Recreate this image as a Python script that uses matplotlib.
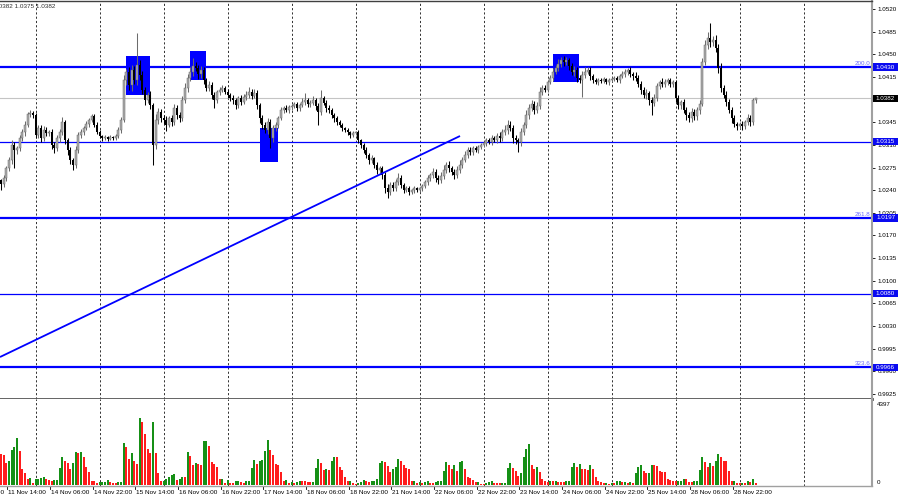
import numpy as np
import pandas as pd
import matplotlib
matplotlib.use("Agg")
import matplotlib.pyplot as plt
import matplotlib.transforms as mtrans
from matplotlib.patches import Rectangle

plt.rcParams['font.family'] = ['Liberation Sans', 'DejaVu Sans']

# ---------------- data (prices given in pips above 1.0000) ----------------
first_open = 262
close_pips = [
    255, 249, 259, 274, 286, 310, 302, 305, 320, 330, 341, 358, 359, 356,
    325, 336, 320, 333, 328, 330, 310, 305, 320, 330, 345, 317, 302, 286, 279, 302, 325, 330, 336, 342, 348, 354, 341, 330,
    324, 320, 322, 319, 322, 320, 324, 333, 348, 410, 422, 402, 426, 410, 433, 418, 395, 379, 387, 371, 310, 348, 361, 351,
    348, 341, 351, 345, 367, 356, 351, 379, 398, 413, 422, 432, 429, 419, 425, 410, 398, 402, 387, 379, 392, 395, 398, 392,
    387, 382, 379, 371, 382, 376, 384, 387, 392, 385, 390, 371, 351, 341, 333, 345, 320, 336, 341, 351, 364, 367, 364, 368,
    370, 373, 367, 371, 376, 379, 373, 375, 379, 370, 361, 382, 375, 367, 364, 356, 351, 345, 341, 336, 333, 330, 325, 328,
    330, 317, 310, 302, 294, 286, 289, 279, 271, 274, 263, 243, 237, 248, 243, 252, 259, 248, 240, 243, 237, 240, 243, 240,
    243, 246, 252, 259, 263, 268, 259, 255, 262, 271, 279, 274, 268, 263, 271, 279, 286, 294, 302, 299, 305, 302, 306, 310,
    313, 317, 314, 320, 317, 324, 320, 330, 333, 341, 336, 320, 317, 314, 330, 341, 356, 367, 373, 364, 370, 392, 398, 395,
    407, 413, 423, 429, 435, 441, 438, 441, 432, 423, 426, 413, 410, 418, 423, 426, 416, 410, 407, 410, 409, 412, 407, 410,
    412, 413, 410, 416, 419, 423, 426, 419, 416, 413, 404, 395, 387, 390, 379, 375, 382, 401, 407, 404, 407, 410, 404, 407,
    382, 371, 376, 364, 356, 351, 361, 354, 364, 373, 438, 464, 475, 469, 472, 460, 429, 398, 387, 376, 364, 351, 342, 339,
    342, 339, 345, 351, 345, 379, 382,
]
upper_wick = [
    4, 3, 5, 4, 6, 8, 5, 4, 5, 4, 6, 3, 5, 4,
    3, 5, 4, 6, 4, 3, 4, 5, 6, 4, 8, 4, 3, 5, 4, 6, 5, 4, 3, 5, 4, 4, 3, 5,
    3, 2, 3, 2, 3, 2, 3, 4, 5, 8, 6, 9, 7, 6, 50, 8, 6, 4, 5, 6, 4, 9, 6, 5,
    5, 6, 4, 5, 6, 4, 5, 6, 7, 6, 8, 12, 6, 5, 7, 5, 4, 6, 5, 4, 3, 4, 5, 3,
    4, 3, 5, 4, 3, 5, 4, 6, 8, 4, 6, 5, 4, 5, 4, 6, 5, 4, 5, 4, 5, 3, 4, 3,
    3, 4, 3, 4, 6, 11, 4, 5, 6, 4, 5, 13, 4, 5, 4, 3, 4, 3, 4, 3, 2, 3, 2, 3,
    2, 3, 2, 3, 4, 3, 5, 3, 4, 3, 4, 5, 6, 4, 5, 6, 8, 4, 3, 4, 3, 2, 3, 2,
    2, 3, 4, 5, 4, 6, 5, 4, 6, 8, 5, 6, 4, 5, 6, 7, 5, 6, 4, 5, 4, 3, 4, 3,
    3, 4, 3, 5, 4, 5, 6, 5, 8, 7, 6, 4, 5, 4, 6, 5, 8, 6, 7, 5, 6, 7, 5, 4,
    4, 5, 6, 5, 7, 5, 6, 5, 4, 5, 6, 4, 5, 6, 8, 5, 4, 3, 4, 3, 4, 3, 2, 3,
    3, 4, 3, 4, 5, 4, 3, 5, 4, 6, 5, 4, 5, 6, 4, 5, 6, 5, 4, 6, 5, 4, 3, 4,
    4, 5, 4, 5, 4, 5, 6, 4, 5, 6, 6, 8, 10, 23, 6, 8, 6, 7, 5, 6, 5, 4, 5, 4,
    4, 5, 4, 6, 5, 3, 0,
]
lower_wick = [
    5, 9, 4, 5, 4, 6, 28, 6, 5, 4, 6, 4, 5, 4,
    4, 5, 6, 4, 5, 4, 6, 8, 4, 5, 4, 6, 7, 6, 8, 5, 4, 5, 4, 3, 4, 3, 4, 3,
    3, 4, 2, 3, 2, 3, 2, 3, 4, 3, 8, 7, 9, 6, 8, 7, 6, 8, 5, 6, 31, 7, 5, 6,
    5, 9, 4, 6, 5, 6, 5, 4, 5, 6, 5, 6, 5, 7, 5, 6, 5, 4, 6, 12, 4, 5, 3, 4,
    5, 4, 6, 5, 4, 5, 3, 4, 5, 4, 3, 6, 7, 6, 5, 6, 15, 5, 4, 5, 3, 4, 3, 4,
    4, 3, 5, 4, 3, 4, 5, 4, 3, 6, 20, 5, 4, 6, 5, 4, 5, 4, 3, 4, 3, 4, 5, 3,
    3, 4, 5, 4, 5, 6, 4, 5, 6, 4, 5, 7, 9, 5, 4, 5, 4, 5, 4, 3, 4, 3, 4, 3,
    3, 4, 3, 4, 5, 4, 6, 5, 4, 5, 4, 6, 5, 6, 4, 5, 4, 3, 4, 5, 4, 3, 4, 3,
    3, 4, 3, 4, 3, 4, 5, 4, 5, 6, 5, 7, 6, 15, 5, 4, 5, 6, 5, 6, 5, 4, 5, 4,
    4, 3, 5, 4, 5, 4, 6, 5, 6, 5, 7, 6, 5, 26, 5, 4, 5, 4, 3, 4, 3, 4, 3, 4,
    3, 4, 3, 4, 3, 4, 5, 4, 5, 4, 5, 6, 5, 6, 7, 19, 5, 4, 5, 4, 5, 4, 5, 4,
    6, 5, 6, 5, 7, 6, 5, 6, 5, 6, 3, 5, 6, 8, 6, 7, 8, 6, 5, 6, 5, 7, 5, 6,
    5, 6, 5, 4, 6, 5, 4,
]
volume = [
    1700, 1620, 1550, 1170, 1260, 1830, 1970, 2440, 1780, 820, 610, 330, 350, 120,
    330, 340, 385, 435, 300, 260, 225, 260, 270, 890, 1450, 1275, 1170, 820, 1135, 1730, 1660, 1740, 1450, 960, 700, 230, 210, 120,
    140, 145, 160, 260, 160, 125, 120, 155, 175, 2180, 2010, 1380, 1660, 1275, 1100, 3490, 3280, 2650, 1870, 1690, 3300, 1690, 650, 210,
    215, 300, 435, 540, 575, 260, 300, 440, 400, 1730, 1520, 1030, 1135, 1100, 1065, 2300, 2320, 2040, 1190, 1100, 925, 300, 305, 120,
    260, 122, 120, 210, 228, 157, 122, 210, 215, 890, 1290, 1100, 1255, 1310, 1780, 2360, 1830, 1570, 1100, 1065, 680, 210, 262, 87,
    157, 88, 158, 227, 210, 192, 157, 155, 160, 890, 1345, 1135, 785, 820, 785, 1255, 1480, 1470, 960, 785, 435, 210, 215, 87,
    52, 122, 175, 262, 227, 157, 227, 230, 330, 1170, 1255, 1205, 995, 700, 820, 925, 1345, 1275, 1065, 890, 820, 227, 230, 87,
    157, 122, 157, 192, 122, 120, 157, 192, 227, 715, 1205, 1065, 820, 1030, 750, 1205, 1275, 820, 400, 384, 262, 157, 160, 70,
    52, 122, 157, 227, 122, 120, 118, 122, 125, 890, 1170, 890, 750, 470, 645, 1480, 1870, 2150, 1065, 820, 925, 680, 330, 192,
    157, 192, 190, 195, 157, 155, 150, 192, 227, 925, 1170, 925, 1100, 855, 820, 785, 1030, 855, 436, 227, 157, 87, 122, 52,
    87, 85, 192, 227, 157, 160, 122, 157, 122, 646, 925, 1030, 715, 611, 646, 1030, 1028, 995, 750, 681, 680, 297, 262, 227,
    192, 195, 198, 332, 297, 157, 155, 192, 227, 785, 1448, 1204, 925, 1134, 995, 1239, 1623, 1448, 1274, 1270, 750, 227, 230, 122,
    87, 90, 85, 227, 157, 297, 87,
]

price_ticks = [1.0520, 1.0485, 1.0450, 1.0415, 1.0380, 1.0345, 1.0310, 1.0275, 1.0240,
               1.0205, 1.0170, 1.0135, 1.0100, 1.0065, 1.0030, 0.9995, 0.9960, 0.9925]
hidden_ticks = [1.0380]          # fully covered by the current-price box
level_prices = [1.0430, 1.0315, 1.0197, 1.0080, 0.9966]
level_thick = [True, False, True, False, True]
level_names = ['200.0', '', '261.8', '', '323.6']
current_price = 1.0382
header_text = '1.0382 1.0382 1.0375 1.0382'
volume_top_label = '4397'
# highlighted zones: (start bar, end bar, top price, bottom price)
zones = [(47.9, 56.8, 1.04474, 1.03871),
         (71.8, 77.8, 1.04551, 1.04103),
         (98.1, 104.8, 1.03361, 1.02835),
         (208.0, 217.7, 1.04504, 1.04072)]
trend_start = (0.6, 0.99821)
trend_end = (173.1, 1.03237)

# ---------------- derived ----------------
c = 1 + np.array(close_pips) / 10000.0
o = 1 + np.array([first_open] + close_pips[:-1]) / 10000.0
hi = np.maximum(o, c) + np.array(upper_wick) / 10000.0
lo = np.minimum(o, c) - np.array(lower_wick) / 10000.0
n = len(c)
x = np.arange(n)

times = pd.date_range('2022-11-10 22:00', '2022-11-29 06:00', freq='h')
times = times[times.dayofweek < 5]
offset = len(times) - n
tx = np.arange(len(times)) - offset

W, H = 900, 500
fig = plt.figure(figsize=(9, 5), dpi=100, facecolor='white')
ax = fig.add_axes([0, 1 - 399 / H, 872 / W, 398 / H])
axv = fig.add_axes([0, 1 - 486 / H, 872 / W, 87 / H])

px_per_bar = 64 / 24
XL = (0.6, 0.6 + 872 / px_per_bar)
for a in (ax, axv):
    a.set_xlim(*XL)
    a.set_facecolor('white')
    a.spines['left'].set_visible(False)
    a.set_xticks([])

ppu = 6470.0
ax.set_ylim(1.0520 - 390 / ppu, 1.0520 + 8 / ppu)
axv.set_ylim(-52, 4502)

# day separators
day_x = list(tx[times.hour == 0])
while day_x[-1] + 24 < 320:
    day_x.append(day_x[-1] + 24)
for d in day_x:
    for a in (ax, axv):
        a.axvline(d, color='#303030', lw=0.7, ls=(0, (2.2, 2.2)), zorder=1)

# zones
for (x0, x1, top, bot) in zones:
    ax.add_patch(Rectangle((x0, bot), x1 - x0, top - bot, fc='#0000ff', ec='none', zorder=2.2))

# levels
ax.axhline(current_price, color='#c4c4c4', lw=0.8, zorder=1.5)
for p, thick in zip(level_prices, level_thick):
    ax.axhline(p, color='#0000ff', lw=1.6 if thick else 0.9, zorder=2.4)

# candles
bull = c >= o
ax.vlines(x[bull], lo[bull], hi[bull], color='#6c6c6c', lw=0.75, zorder=3)
ax.vlines(x[~bull], lo[~bull], hi[~bull], color='#000000', lw=0.75, zorder=3)
body = np.maximum(np.abs(c - o), 0.00009)
ax.bar(x[bull], body[bull], bottom=np.minimum(o, c)[bull], width=0.8,
       color='#ababab', edgecolor='#6a6a6a', linewidth=0.35, zorder=4)
ax.bar(x[~bull], body[~bull], bottom=np.minimum(o, c)[~bull], width=0.8,
       color='#000000', linewidth=0, zorder=4)

# trend line
ax.plot([trend_start[0], trend_end[0]], [trend_start[1], trend_end[1]],
        color='#0000ff', lw=1.3, zorder=5, solid_capstyle='butt')

# volumes
v = np.array(volume)
up = np.r_[True, v[1:] > v[:-1]]
axv.bar(x, v, width=0.75, color=np.where(up, '#169016', '#ff1c1c'), linewidth=0, zorder=3)

# spines
ax.spines['top'].set_color('#404040'); ax.spines['top'].set_linewidth(1.0)
ax.spines['right'].set_color('#a0a0a0'); ax.spines['right'].set_linewidth(1.5)
ax.spines['bottom'].set_color('#555555'); ax.spines['bottom'].set_linewidth(2.0)
axv.spines['top'].set_visible(False)
axv.spines['right'].set_color('#a0a0a0'); axv.spines['right'].set_linewidth(1.5)
axv.spines['bottom'].set_color('#a0a0a0'); axv.spines['bottom'].set_linewidth(1.0)

# price axis
ax.yaxis.tick_right()
ax.set_yticks(price_ticks)
ax.set_yticklabels(['' if t in hidden_ticks else f'{t:.4f}' for t in price_ticks])
ax.tick_params(axis='y', length=2.5, width=0.6, pad=1.5, labelsize=4.5, colors='black')
axv.set_yticks([])

# right-side level boxes
bt = mtrans.blended_transform_factory(ax.transAxes, ax.transData)
bw, bh = 25 / 872, 7.5 / ppu
for p, name in zip(level_prices + [current_price], level_names + ['']):
    fc = '#000000' if p == current_price else '#0a0af0'
    ax.add_patch(Rectangle((1.0012, p - bh / 2), bw, bh, transform=bt, fc=fc, ec='none',
                           clip_on=False, zorder=6))
    ax.text(1.0012 + bw / 2, p, f'{p:.4f}', transform=bt, ha='center', va='center',
            fontsize=4.5, color='white', clip_on=False, zorder=7)
    if name:
        ax.text(1 - 1.5 / 872, p + 1.2 / ppu, name, transform=bt, ha='right', va='bottom',
                fontsize=4.5, color='#6a6aff', zorder=7)

# volume labels
fig.text(877 / W, 1 - 404 / H, volume_top_label, fontsize=4.5, va='center', ha='left')
fig.text(877 / W, 1 - 482 / H, '0', fontsize=4.5, va='center', ha='left')

# date labels
vt = mtrans.blended_transform_factory(axv.transData, axv.transAxes)
for k in range(0, len(times), 16):
    xk = tx[k]
    axv.text(xk - 0.3, -0.075, times[k].strftime('%d %b %H:%M'), transform=vt,
             ha='left', va='center', fontsize=4.6, clip_on=False)
    if XL[0] < xk < XL[1]:
        axv.plot([xk - 0.7, xk - 0.7], [0, -0.04], transform=vt, color='black', lw=0.6,
                 clip_on=False)

# header
fig.text(55 / W, 1 - 7 / H, header_text, ha='right', va='center', fontsize=4.6, color='#303030')

fig.savefig('out.png', dpi=100, facecolor='white')
